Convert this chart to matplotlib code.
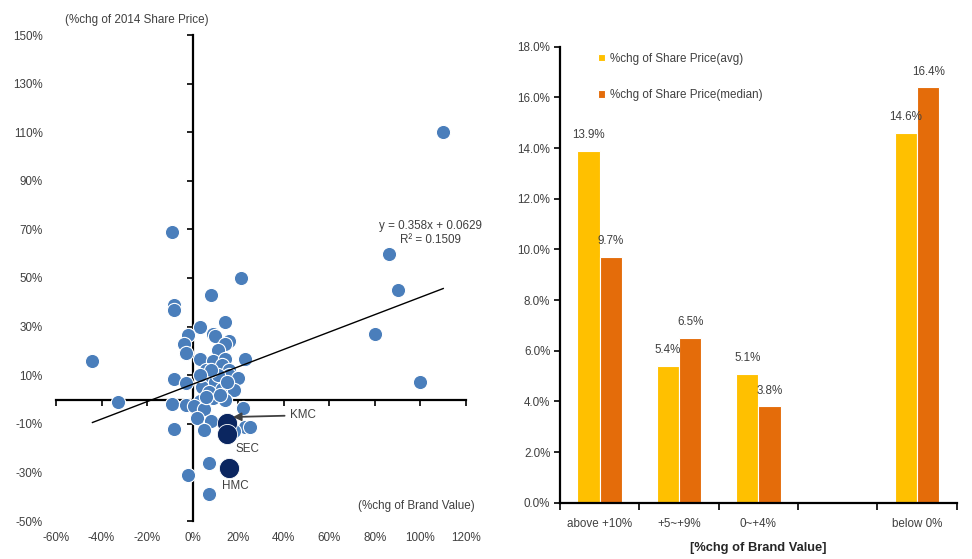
import numpy as np
import matplotlib
matplotlib.use("Agg")
import matplotlib.pyplot as plt
from matplotlib.ticker import FuncFormatter

plt.rcParams['font.family'] = ['Liberation Sans', 'DejaVu Sans']
plt.rcParams['font.size'] = 8.4
plt.rcParams['text.color'] = '#404040'
plt.rcParams['xtick.color'] = '#404040'
plt.rcParams['ytick.color'] = '#404040'

# ---- scatter data (% change) ----
brand_chg = [110, -9, 86, 90, 80, 100, 21, -44, -33, 8, -8, -8, -2, 7, 7, -8,
             3, 14, -2, 9, 10, 16, 14, -4, 11, -3, 3, 9, 14, 23, 13, 16, 5, 16,
             -8, 20, -3, 5, 5, 4, 10, 13, 16, 18, 8, 9, 14, 3, -9, -3, 0.6, 5,
             22, 2, 8, 5, 23, 25, 18, 6, 7, 11, 12, 6, 15, 8, 3]
price_chg = [110, 69, 60, 45, 27, 7, 50, 16, -1, 43, 39, 37, -31, -26, -39, -12,
             30, 32, 26.5, 27, 26, 24, 23, 23, 20.5, 19, 16.5, 16, 16.5, 16.5, 14, 12, 10.5, 10,
             8.4, 9, 6.6, 8, 6.6, 5, 7, 4.5, 3.5, 3.8, 1.4, 0.7, 0, -0.6, -2, -2.4, -2.8, -4,
             -3.7, -7.8, -9, -12.6, -11.5, -11.3, -13, 12, 3, 10, 2, 1, 7, 12, 10]

hl_names = ['KMC', 'SEC', 'HMC']
hl_brand = [15, 15, 16]
hl_price = [-9.5, -14, -28]

trend_slope = 0.358
trend_icpt = 6.29
trend_x = [-44, 110]

# ---- bar data ----
groups = ['above +10%', '+5~+9%', '0~+4%', '', 'below 0%']
avg_chg = [13.9, 5.4, 5.1, np.nan, 14.6]
med_chg = [9.7, 6.5, 3.8, np.nan, 16.4]

fig = plt.figure(figsize=(9.72, 5.59), dpi=100)

# ================= left: scatter =================
ax = fig.add_axes([56/972, 1-521/559, 410/972, 486/559])
ax.set_xlim(-60, 120)
ax.set_ylim(-50, 150)
for s in ax.spines.values():
    s.set_visible(False)
ax.set_xticks(np.arange(-60, 121, 20))
ax.set_yticks(np.arange(-50, 151, 20))
pct = FuncFormatter(lambda v, p: f'{v:.0f}%')
ax.xaxis.set_major_formatter(pct)
ax.yaxis.set_major_formatter(pct)
ax.tick_params(axis='both', length=0)
ax.tick_params(axis='y', pad=9.5)
ax.tick_params(axis='x', pad=8)

# spines crossing at zero
sy = ax.secondary_yaxis(60/180)
sy.set_yticks(np.arange(-50, 151, 20))
sy.set_yticklabels([])
sy.tick_params(direction='out', length=4, width=1.2, color='black')
sy.spines['left'].set_linewidth(1.6)
sx = ax.secondary_xaxis(50/200)
sx.set_xticks(np.arange(-60, 121, 20))
sx.set_xticklabels([])
sx.tick_params(direction='out', length=4, width=1.2, color='black')
sx.spines['bottom'].set_linewidth(1.6)

ax.scatter(brand_chg, price_chg, s=105, color='#4A7EBB', edgecolor='white',
           linewidth=0.8, zorder=3)
tx = np.array(trend_x)
ax.plot(tx, trend_slope*tx + trend_icpt, color='black', lw=1.0, zorder=4)
ax.scatter(hl_brand, hl_price, s=210, color='#0B2660', edgecolor='white',
           linewidth=0.6, zorder=5)

ax.text(104.3, 68.5, 'y = 0.358x + 0.0629\nR² = 0.1509', ha='center', va='center',
        linespacing=1.2)
ax.annotate('KMC', xy=(17.7, -7.2), xytext=(42.8, -6.5), ha='left', va='center',
            arrowprops=dict(arrowstyle='-|>', color='#404040', lw=1.3,
                            mutation_scale=12, shrinkA=2, shrinkB=0), zorder=6)
ax.text(24.2, -20.3, 'SEC', ha='center', va='center')
ax.text(18.6, -35.6, 'HMC', ha='center', va='center')
ax.text(72.4, -43.9, '(%chg of Brand Value)', ha='left', va='center')
fig.text(65/972, 1-20/559, '(%chg of 2014 Share Price)', ha='left', va='center')

# ================= right: bars =================
bx = fig.add_axes([560/972, 1-502.7/559, 396.7/972, 456/559])
x = np.arange(len(groups))
w = 0.28
bx.bar(x - 0.14, avg_chg, w, color='#FFC000', edgecolor='white', lw=0.8,
       label='%chg of Share Price(avg)')
bx.bar(x + 0.14, med_chg, w, color='#E46C0A', edgecolor='white', lw=0.8,
       label='%chg of Share Price(median)')
for xi, a, m in zip(x, avg_chg, med_chg):
    if not np.isnan(a):
        bx.annotate(f'{a:.1f}%', (xi - 0.14, a), xytext=(0, 7), textcoords='offset points',
                    ha='center', va='bottom')
        bx.annotate(f'{m:.1f}%', (xi + 0.14, m), xytext=(0, 7), textcoords='offset points',
                    ha='center', va='bottom')

bx.set_xlim(-0.5, 4.5)
bx.set_ylim(0, 18)
bx.set_yticks(np.arange(0, 18.1, 2))
bx.yaxis.set_major_formatter(FuncFormatter(lambda v, p: f'{v:.1f}%'))
bx.set_xticks(x)
bx.set_xticklabels(groups)
bx.set_xticks(np.arange(-0.5, 4.6, 1), minor=True)
bx.tick_params(axis='x', which='major', length=0, pad=11)
bx.tick_params(axis='x', which='minor', direction='out', length=5, width=1.2, color='black')
bx.tick_params(axis='y', direction='out', length=4, width=1.2, color='black', pad=3)
for s in ['top', 'right']:
    bx.spines[s].set_visible(False)
for s in ['left', 'bottom']:
    bx.spines[s].set_linewidth(1.6)
bx.set_xlabel('[%chg of Brand Value]', fontweight='bold', fontsize=9.3,
              color='#262626', labelpad=9)
bx.legend(loc='upper left', bbox_to_anchor=(0.07, 1.01), frameon=False,
          handlelength=0.6, handleheight=0.6, handletextpad=0.4,
          labelspacing=2.1)

fig.savefig('out.png', dpi=100)
